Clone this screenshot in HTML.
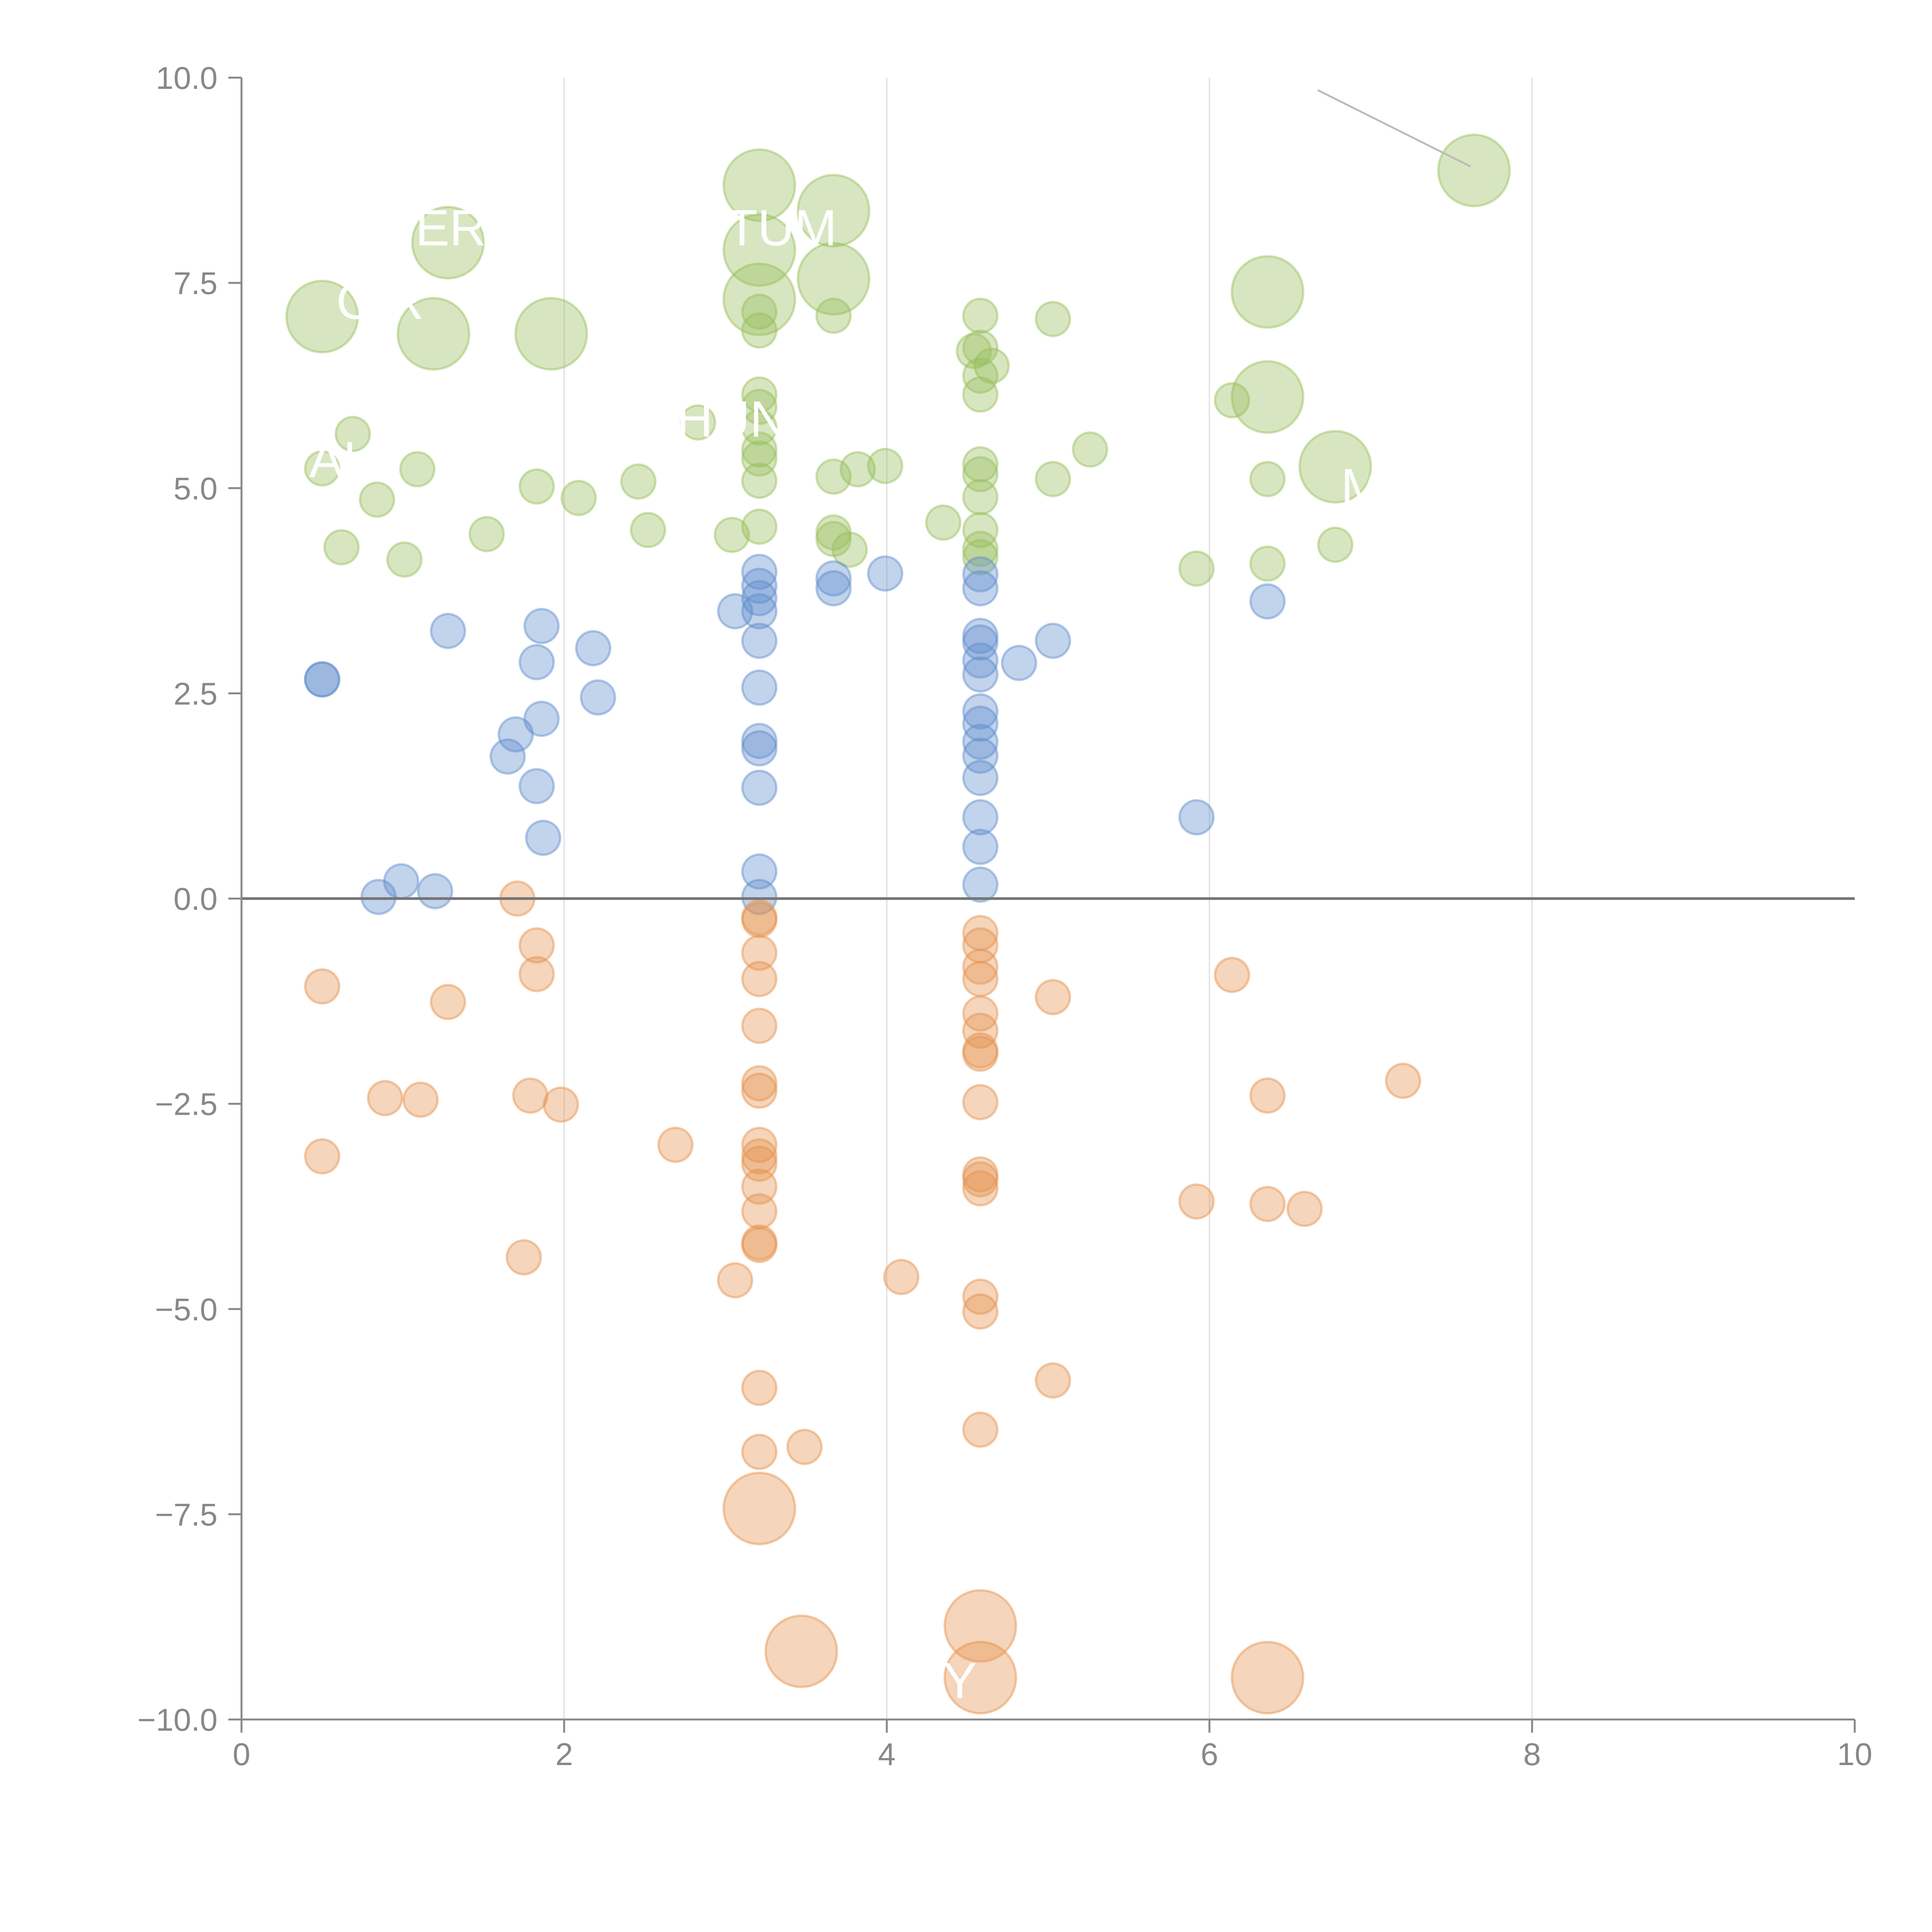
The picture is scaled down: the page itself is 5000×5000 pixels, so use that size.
<!DOCTYPE html>
<html><head><meta charset="utf-8"><style>
html,body{margin:0;padding:0;background:#fff;}
svg{display:block;font-family:"Liberation Sans",sans-serif;}
</style></head><body>
<svg id="chart" width="5000" height="5000" viewBox="0 0 5000 5000"></svg>
<script>
const xTicks=[0,2,4,6,8,10];
const yTicks=[10,7.5,5,2.5,0,-2.5,-5,-7.5,-10];
const yTickLabels=["10.0","7.5","5.0","2.5","0.0","\u22122.5","\u22125.0","\u22127.5","\u221210.0"];
const greenX=[0.5,1.28,1.19,1.92,3.21,3.21,3.21,3.67,3.67,7.64,6.36,6.36,6.78,
0.69,0.5,0.84,0.62,1.01,1.09,1.52,1.83,2.09,2.46,2.52,2.83,3.04,3.21,3.21,3.21,3.21,3.21,3.21,3.21,3.21,3.21,
3.67,3.67,3.67,3.67,3.82,3.77,3.99,4.35,4.58,4.54,4.58,4.65,4.58,4.58,4.58,4.58,4.58,4.58,4.58,4.58,
5.03,5.03,5.26,5.92,6.14,6.36,6.36,6.78];
const greenY=[7.09,7.99,6.88,6.88,8.69,7.90,7.30,8.38,7.55,8.87,7.39,6.11,5.26,
5.66,5.24,4.86,4.28,4.13,5.23,4.44,5.02,4.88,5.08,4.49,5.80,4.43,7.15,6.92,6.14,5.99,5.74,5.47,5.36,5.09,4.53,
7.10,5.14,4.46,4.38,5.23,4.25,5.27,4.58,7.10,6.67,6.71,6.49,6.37,6.14,5.29,5.17,4.89,4.49,4.26,4.16,
7.06,5.11,5.47,4.02,6.07,5.11,4.08,4.31];
const greenS=[44,44,44,44,44,44,44,44,44,44,44,44,44];
const blueX=[0.5,0.5,0.85,0.99,1.2,1.28,1.65,1.70,1.83,1.83,1.86,1.86,1.87,2.18,2.21,3.06,
3.21,3.21,3.21,3.21,3.21,3.21,3.21,3.21,3.21,3.21,3.21,3.67,3.67,3.99,
4.58,4.58,4.58,4.58,4.58,4.58,4.58,4.58,4.58,4.58,4.58,4.58,4.58,4.58,4.82,5.03,5.92,6.36];
const blueY=[2.67,2.67,0.02,0.21,0.09,3.26,1.73,2.0,2.88,1.37,3.32,2.19,0.74,3.05,2.45,3.5,
3.98,3.81,3.66,3.50,3.14,2.57,1.92,1.83,1.35,0.33,0.02,3.9,3.78,3.96,
3.95,3.78,3.20,3.12,2.90,2.73,2.28,2.13,1.91,1.74,1.47,0.99,0.63,0.17,2.87,3.14,0.99,3.62];
const orangeX=[3.21,3.47,4.58,4.58,6.36,
0.5,0.5,0.89,1.11,1.28,1.71,1.83,1.83,1.79,1.98,1.75,2.69,3.06,
3.21,3.21,3.21,3.21,3.21,3.21,3.21,3.21,3.21,3.21,3.21,3.21,3.21,3.21,3.21,3.21,3.49,4.09,
4.58,4.58,4.58,4.58,4.58,4.58,4.58,4.58,4.58,4.58,4.58,4.58,4.58,4.58,4.58,
5.03,5.03,5.92,6.14,6.36,6.36,6.59,7.2];
const orangeY=[-7.43,-9.17,-8.86,-9.49,-9.49,
-1.07,-3.14,-2.43,-2.45,-1.26,0.0,-0.57,-0.92,-2.40,-2.51,-4.37,-3.0,-4.65,
-0.23,-0.26,-0.66,-0.98,-1.55,-2.25,-2.34,-3.0,-3.14,-3.23,-3.51,-3.81,-4.19,-4.22,-5.96,-6.74,-6.68,-4.61,
-0.42,-0.57,-0.83,-0.98,-1.40,-1.61,-1.85,-1.89,-2.48,-3.36,-3.42,-3.53,-4.85,-5.03,-6.47,
-1.20,-5.87,-3.69,-0.93,-2.40,-3.72,-3.78,-2.22];
const orangeS=[44,44,44,44,44];
const SMALL=10;

const X0=625,X1=4800,Y0=4450,Y1=201;
const xs=v=>X0+(v-0)/(10-0)*(X1-X0);
const ys=v=>Y0-(v+10)/20*(Y0-Y1);
const rs=s=>44*Math.sqrt(s/10);
const NS="http://www.w3.org/2000/svg";
const svg=document.getElementById('chart');
function mk(tag,attrs,parent){const e=document.createElementNS(NS,tag);for(const k in attrs)e.setAttribute(k,attrs[k]);(parent||svg).appendChild(e);return e;}

const grid=mk('g',{});


xTicks.slice(1,5).forEach(t=>{const l=mk('line',{x1:xs(t),x2:xs(t),y1:Y1,y2:Y0,stroke:'#dddddd','stroke-width':3},grid);

});

function series(X,Y,S,color,name){
  const g=mk('g',{});
  
  
  X.forEach((x,i)=>{const s=(S[i]!==undefined)?S[i]:SMALL;
    const c=mk('circle',{cx:xs(x),cy:ys(Y[i]),r:rs(s),fill:color,'fill-opacity':0.38,stroke:color,'stroke-opacity':0.45,'stroke-width':6},g);
    
    });
}
series(greenX,greenY,greenS,'rgb(150,190,90)','green-series');
series(blueX,blueY,[],'rgb(95,140,205)','blue-series');
series(orangeX,orangeY,orangeS,'rgb(228,145,75)','orange-series');

const z=mk('line',{x1:xs(0),x2:xs(10),y1:ys(0),y2:ys(0),stroke:'#777','stroke-width':7});



const ll=mk('line',{x1:3410,y1:233,x2:3806,y2:431,stroke:'#bbbbbb','stroke-width':5});


const labels=[["ER",1075,635],["TUM",1880,635],["CIR",870,825],["AL",800,1235],["HUN",1750,1130],["Y",2440,4395],["M",3470,1305]];
labels.forEach(l=>{const t=mk('text',{x:l[1],y:l[2],fill:'#fff','font-size':132});t.textContent=l[0];

});

const ax=mk('g',{});


const ya=mk('line',{x1:X0,x2:X0,y1:Y1,y2:Y0+34,stroke:'#888','stroke-width':5},ax);


const xa=mk('line',{x1:X0-34,x2:X1,y1:Y0,y2:Y0,stroke:'#888','stroke-width':5},ax);


yTicks.forEach((t,i)=>{
  const tk=mk('line',{x1:X0-34,x2:X0,y1:ys(t),y2:ys(t),stroke:'#888','stroke-width':5},ax);
  
  
  const tx=mk('text',{x:X0-62,y:ys(t)+29,'text-anchor':'end',fill:'#888','font-size':82},ax);
  tx.textContent=yTickLabels[i];
  
  
});
xTicks.forEach(t=>{
  const tk=mk('line',{x1:xs(t),x2:xs(t),y1:Y0,y2:Y0+34,stroke:'#888','stroke-width':5},ax);
  
  
  const tx=mk('text',{x:xs(t),y:Y0+118,'text-anchor':'middle',fill:'#888','font-size':82},ax);
  tx.textContent=String(t);
  
  
});
</script>
</body></html>
